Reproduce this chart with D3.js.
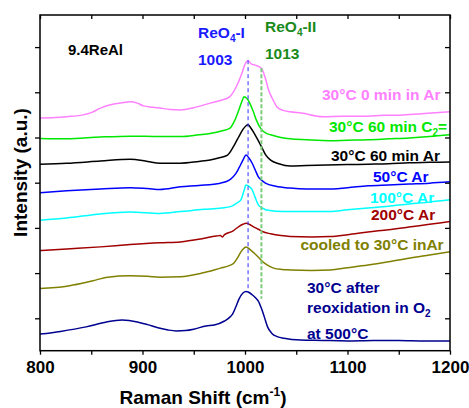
<!DOCTYPE html>
<html><head><meta charset="utf-8">
<script src="https://cdn.jsdelivr.net/npm/d3@7"></script>
<style>
body{margin:0;background:#fff}
svg{display:block}
text{font-family:"Liberation Sans",Arial,Helvetica,sans-serif;font-weight:bold}
</style>
</head><body>
<svg id="chart" width="469" height="408"></svg>
<script>
// ---------- data ----------
const xTicks = [800, 900, 1000, 1100, 1200];
const xMinorTicks = [850, 950, 1050, 1150];
const yTicks = [0, 1, 2, 3, 4, 5, 6];   // unlabeled intensity ticks (a.u.)

const seriesLabels = [
  "30°C 0 min in Ar", "30°C 60 min C2=", "30°C 60 min Ar", "50°C Ar",
  "100°C Ar", "200°C Ar", "cooled to 30°C inAr", "30°C after reoxidation in O2 at 500°C"
];
const seriesColors = ["#ff80ff", "#00e800", "#000000", "#0000ff", "#00ffff", "#a00000", "#808000", "#000090"];

const s30_0minAr = [[800,4.43],[815,4.44],[826,4.46],[842,4.50],[850,4.55],[859,4.65],[872,4.74],[880,4.77],[888,4.79],[895,4.76],[901,4.70],[910,4.67],[917,4.65],[927,4.62],[937,4.61],[950,4.66],[966,4.76],[976,4.82],[985,4.90],[991,5.10],[997,5.42],[1000,5.62],[1003,5.70],[1006,5.63],[1010,5.60],[1016,5.53],[1020,5.30],[1023,5.05],[1027,4.85],[1031,4.68],[1037,4.60],[1044,4.57],[1055,4.54],[1076,4.46],[1095,4.47],[1115,4.47],[1135,4.49],[1154,4.50],[1175,4.53],[1200,4.57]];
const s30_60minC2 = [[800,3.98],[826,3.97],[859,4.01],[888,4.03],[917,4.02],[937,4.02],[955,4.06],[966,4.09],[978,4.15],[985,4.20],[990,4.38],[994,4.61],[997,4.80],[999,4.90],[1002,4.86],[1004,4.79],[1008,4.58],[1011,4.39],[1016,4.18],[1020,4.10],[1025,4.06],[1035,4.00],[1044,3.97],[1060,3.95],[1083,3.93],[1100,3.94],[1120,3.95],[1140,3.97],[1160,3.99],[1180,4.02],[1200,4.06]];
const s30_60minAr = [[800,3.41],[826,3.43],[859,3.48],[888,3.52],[905,3.47],[917,3.43],[937,3.43],[955,3.47],[966,3.50],[975,3.55],[983,3.61],[990,3.85],[994,4.02],[998,4.18],[1001,4.26],[1003,4.28],[1006,4.20],[1008,4.13],[1012,3.97],[1016,3.80],[1020,3.62],[1025,3.50],[1033,3.42],[1044,3.37],[1060,3.38],[1080,3.39],[1100,3.40],[1120,3.41],[1140,3.42],[1160,3.44],[1180,3.45],[1200,3.46]];
const s50Ar = [[800,2.78],[826,2.82],[859,2.86],[888,2.89],[905,2.87],[917,2.85],[937,2.91],[955,2.94],[976,2.99],[986,3.08],[991,3.20],[994,3.32],[998,3.50],[1001,3.61],[1004,3.54],[1007,3.43],[1010,3.28],[1013,3.13],[1017,3.04],[1020,2.99],[1030,2.92],[1044,2.88],[1060,2.86],[1080,2.86],[1100,2.89],[1120,2.93],[1140,2.95],[1160,2.97],[1180,2.99],[1200,3.02]];
const s100Ar = [[800,2.17],[826,2.22],[859,2.31],[888,2.35],[917,2.32],[937,2.36],[960,2.41],[977,2.44],[986,2.47],[992,2.55],[996,2.62],[999,2.82],[1001,2.95],[1004,2.92],[1007,2.84],[1010,2.67],[1013,2.51],[1017,2.44],[1020,2.40],[1030,2.37],[1044,2.36],[1065,2.36],[1083,2.36],[1100,2.40],[1120,2.44],[1140,2.48],[1160,2.53],[1180,2.57],[1200,2.62]];
const s200Ar = [[800,1.50],[830,1.54],[859,1.58],[888,1.63],[917,1.67],[937,1.69],[958,1.76],[972,1.82],[976,1.83],[978,1.80],[980,1.85],[988,1.93],[994,2.03],[998,2.08],[1001,2.10],[1005,2.07],[1008,2.03],[1013,1.97],[1017,1.92],[1025,1.87],[1035,1.83],[1044,1.81],[1065,1.80],[1083,1.81],[1100,1.85],[1120,1.91],[1140,1.96],[1160,2.02],[1180,2.08],[1200,2.14]];
const sCooled = [[800,0.66],[826,0.71],[840,0.77],[855,0.85],[866,0.91],[888,0.94],[905,0.93],[917,0.91],[937,0.92],[958,1.00],[976,1.11],[984,1.16],[989,1.22],[993,1.35],[996,1.47],[999,1.55],[1001,1.58],[1005,1.52],[1009,1.44],[1014,1.33],[1019,1.22],[1024,1.15],[1028,1.11],[1036,1.08],[1044,1.07],[1065,1.06],[1083,1.07],[1100,1.12],[1120,1.18],[1140,1.25],[1160,1.33],[1180,1.40],[1200,1.47]];
const sReox = [[800,-0.35],[820,-0.29],[845,-0.19],[865,-0.08],[880,-0.04],[895,-0.08],[905,-0.14],[915,-0.21],[925,-0.26],[933,-0.28],[942,-0.27],[950,-0.24],[962,-0.17],[970,-0.15],[980,-0.06],[985,0.02],[988,0.10],[991,0.25],[994,0.42],[998,0.56],[1001,0.59],[1004,0.57],[1007,0.52],[1010,0.46],[1013,0.38],[1016,0.22],[1019,0.02],[1022,-0.19],[1026,-0.33],[1032,-0.41],[1038,-0.44],[1054,-0.48],[1075,-0.49],[1100,-0.50],[1125,-0.49],[1150,-0.49],[1175,-0.50],[1200,-0.50]];

const allSeries = [s30_0minAr, s30_60minC2, s30_60minAr, s50Ar, s100Ar, s200Ar, sCooled, sReox];

// reference band positions (x) and their vertical extents (a.u.)
const bandRoman = ["I", "II"];
const bandLabels = ["1003", "1013"];
const bandPos = [1003, 1016];
const bandTop = [5.71, 5.53];
const bandBottom = [0.58, 0.43];

// ---------- drawing ----------
const svg = d3.select("#chart");
const L = 40, R = 450, T = 15, B = 350.7;
const x = d3.scaleLinear().domain([800, 1200]).range([L, R]);
const y = d3.scaleLinear().domain([-0.717, 6.71]).range([B, T]);

svg.append("defs").append("clipPath").attr("id", "clip")
  .append("rect").attr("x", L).attr("y", T).attr("width", R - L).attr("height", B - T);

// spectra
const line = d3.line().x(d => x(d[0])).y(d => y(d[1])).curve(d3.curveMonotoneX);
const g = svg.append("g").attr("clip-path", "url(#clip)");
allSeries.forEach((s, i) => {
  g.append("path").datum(s).attr("d", line)
    .attr("fill", "none").attr("stroke", seriesColors[i]).attr("stroke-width", 1.5)
    .attr("stroke-linejoin", "round");
});

// dashed band lines
g.append("line").attr("x1", x(bandPos[0])).attr("x2", x(bandPos[0]))
  .attr("y1", y(bandTop[0])).attr("y2", y(bandBottom[0]))
  .attr("stroke", "#3030ff").attr("stroke-width", 1).attr("stroke-dasharray", "4,3");
g.append("line").attr("x1", x(bandPos[1])).attr("x2", x(bandPos[1]))
  .attr("y1", y(bandTop[1])).attr("y2", y(bandBottom[1]))
  .attr("stroke", "#7acc7a").attr("stroke-width", 2).attr("stroke-dasharray", "4,2");

// frame
svg.append("rect").attr("x", L).attr("y", T).attr("width", R - L).attr("height", B - T)
  .attr("fill", "none").attr("stroke", "#000").attr("stroke-width", 1.5);

// axes
const xAxis = d3.axisBottom(x).tickValues(xTicks).tickSize(4).tickPadding(6).tickFormat(d3.format("d"));
const gx = svg.append("g").attr("transform", `translate(0,${B})`).call(xAxis);
gx.select(".domain").remove();
gx.selectAll("text").attr("font-size", 17).attr("fill", "#000")
  .attr("font-family", '"Liberation Sans",Arial,sans-serif').attr("font-weight", "bold");
gx.selectAll("line").attr("stroke-width", 1.3);
const gxm = svg.append("g").attr("transform", `translate(0,${B})`)
  .call(d3.axisBottom(x).tickValues(xMinorTicks).tickSize(4).tickFormat(""));
gxm.select(".domain").remove();
gxm.selectAll("line").attr("stroke-width", 1.3);

const gtop = svg.append("g").attr("transform", `translate(0,${T})`)
  .call(d3.axisBottom(x).tickValues(xTicks.concat(xMinorTicks)).tickSize(4).tickFormat(""));
gtop.select(".domain").remove();
gtop.selectAll("line").attr("stroke-width", 1.3);

const gy = svg.append("g").attr("transform", `translate(${L},0)`)
  .call(d3.axisLeft(y).tickValues(yTicks).tickSize(5).tickFormat(""));
gy.select(".domain").remove();
gy.selectAll("line").attr("stroke-width", 1.3);
const gyr = svg.append("g").attr("transform", `translate(${R},0)`)
  .call(d3.axisLeft(y).tickValues(yTicks).tickSize(5).tickFormat(""));
gyr.select(".domain").remove();
gyr.selectAll("line").attr("stroke-width", 1.3);

// axis titles
const xt = svg.append("text").attr("x", 203).attr("y", 404)
  .attr("text-anchor", "middle").attr("font-size", 19).attr("fill", "#000");
xt.append("tspan").text("Raman Shift (cm");
xt.append("tspan").attr("font-size", 12).attr("dy", -8).text("-1");
xt.append("tspan").attr("dy", 8).text(")");

svg.append("text").attr("transform", "translate(26.5,172.5) rotate(-90)")
  .attr("text-anchor", "middle").attr("font-size", 19).attr("fill", "#000")
  .text("Intensity (a.u.)");

// sample label
svg.append("text").attr("x", 68).attr("y", 55).attr("font-size", 15).attr("fill", "#000").text("9.4ReAl");

// band labels
function bandLabel(i, tx, ty, color) {
  const t = svg.append("text").attr("x", tx).attr("y", ty).attr("font-size", 15.5).attr("fill", color);
  t.append("tspan").text("ReO");
  t.append("tspan").attr("font-size", 10).attr("dy", 4).text("4");
  t.append("tspan").attr("dy", -4).text("-" + bandRoman[i]);
  svg.append("text").attr("x", tx).attr("y", ty + 27).attr("font-size", 15.5).attr("fill", color).text(bandLabels[i]);
}
bandLabel(0, 198, 38, "#1a1aff");
bandLabel(1, 265, 32, "#1a8a1a");

// series labels
const fs = 15.5;
function plain(txt, tx, ty, color) {
  return svg.append("text").attr("x", tx).attr("y", ty).attr("font-size", fs).attr("fill", color).text(txt);
}
plain(seriesLabels[0], 322, 100, seriesColors[0]);
{
  const t = svg.append("text").attr("x", 329).attr("y", 131.5).attr("font-size", fs).attr("fill", seriesColors[1]);
  t.append("tspan").text("30°C 60 min C");
  t.append("tspan").attr("font-size", 10).attr("dy", 4).text("2");
  t.append("tspan").attr("dy", -4).text("=");
}
plain(seriesLabels[2], 331, 161, seriesColors[2]);
plain(seriesLabels[3], 373, 181.5, seriesColors[3]);
plain(seriesLabels[4], 370, 202.5, seriesColors[4]);
plain(seriesLabels[5], 371, 220, seriesColors[5]);
plain(seriesLabels[6], 300.5, 250, seriesColors[6]);
plain("30°C after", 307, 292.5, seriesColors[7]);
{
  const t = svg.append("text").attr("x", 307).attr("y", 312.5).attr("font-size", fs).attr("fill", seriesColors[7]);
  t.append("tspan").text("reoxidation in O");
  t.append("tspan").attr("font-size", 10).attr("dy", 4).text("2");
}
plain("at 500°C", 307, 339, seriesColors[7]);
</script>
</body></html>
